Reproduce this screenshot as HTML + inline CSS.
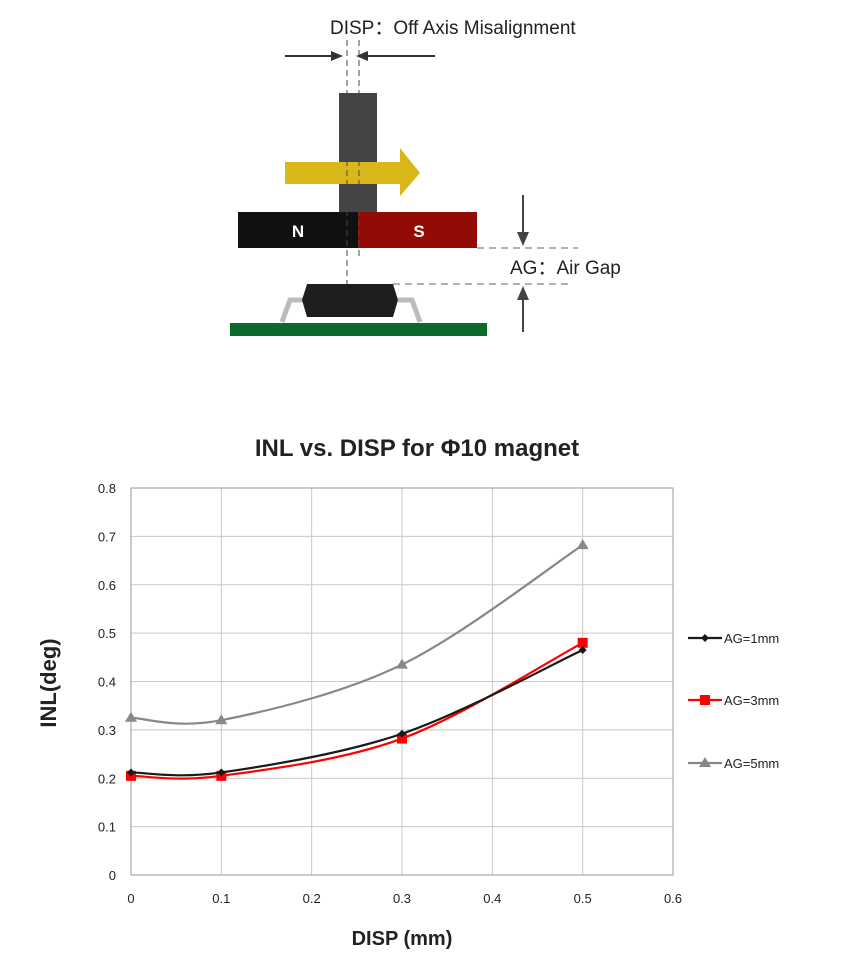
<!DOCTYPE html>
<html><head><meta charset="utf-8"><style>
html,body{margin:0;padding:0;background:#fff;}
body{width:852px;height:975px;position:relative;overflow:hidden;font-family:"Liberation Sans",sans-serif;}
</style></head><body>
<svg width="852" height="975" viewBox="0 0 852 975" xmlns="http://www.w3.org/2000/svg">
<g>
  <text x="330" y="34" font-size="19" fill="#222">DISP：Off Axis Misalignment</text>
  <line x1="285" y1="56" x2="338" y2="56" stroke="#333" stroke-width="2"/>
  <polygon points="343,56 331,51 331,61" fill="#333"/>
  <line x1="362" y1="56" x2="435" y2="56" stroke="#333" stroke-width="2"/>
  <polygon points="356,56 368,51 368,61" fill="#333"/>
  <rect x="339" y="93" width="38" height="120" fill="#444"/>
  <rect x="285" y="162" width="100" height="22" fill="#d8b818"/>
  <polygon points="400,148 420,173 400,196" fill="#d8b818"/>
  <rect x="385" y="162" width="16" height="22" fill="#d8b818"/>
  <rect x="238" y="212" width="120" height="36" fill="#111"/>
  <rect x="358" y="212" width="119" height="36" fill="#930b05"/>
  <text x="298" y="237" font-size="17" font-weight="bold" fill="#fff" text-anchor="middle">N</text>
  <text x="419" y="237" font-size="17" font-weight="bold" fill="#fff" text-anchor="middle">S</text>
  <line x1="347" y1="40" x2="347" y2="290" stroke="#444" stroke-dasharray="6,4"/>
  <line x1="359" y1="40" x2="359" y2="258" stroke="#444" stroke-dasharray="6,4"/>
  <line x1="477" y1="248" x2="578" y2="248" stroke="#666" stroke-dasharray="7,5"/>
  <line x1="393" y1="284" x2="572" y2="284" stroke="#666" stroke-dasharray="7,5"/>
  <line x1="523" y1="195" x2="523" y2="236" stroke="#444" stroke-width="2"/>
  <polygon points="523,246 517,232 529,232" fill="#444"/>
  <line x1="523" y1="297" x2="523" y2="332" stroke="#444" stroke-width="2"/>
  <polygon points="523,286 517,300 529,300" fill="#444"/>
  <text x="510" y="274" font-size="19" fill="#222">AG：Air Gap</text>
  <path d="M282,322 L290,300 L305,300 M420,322 L412,300 L398,300" stroke="#bbb" stroke-width="5" fill="none"/>
  <polygon points="307,284 393,284 398,300 393,317 307,317 302,300" fill="#1e1e1e"/>
  <rect x="230" y="323" width="257" height="13" fill="#0a6a2c"/>
</g>
<text x="417" y="456" font-size="24" font-weight="bold" fill="#222" text-anchor="middle">INL vs. DISP for Φ10 magnet</text>
<g id="grid"></g>
<rect x="131" y="488" width="542" height="387" fill="none" stroke="#999"/>
<g id="series"></g>
<g id="ticks" font-size="13" fill="#222"></g>
<text x="402" y="945" font-size="20" font-weight="bold" fill="#222" text-anchor="middle">DISP (mm)</text>
<text transform="translate(56,683) rotate(-90)" font-size="22" font-weight="bold" fill="#222" text-anchor="middle">INL(deg)</text>
<g id="legend" font-size="13" fill="#222"></g>
</svg>
<script>
const xCats=[0,0.1,0.3,0.5];
const ag1=[0.212,0.212,0.292,0.465];
const ag3=[0.205,0.205,0.282,0.48];
const ag5=[0.325,0.32,0.435,0.682];
const seriesNames=["AG=1mm","AG=3mm","AG=5mm"];
const xTicks=[0,0.1,0.2,0.3,0.4,0.5,0.6];
const yTicks=[0,0.1,0.2,0.3,0.4,0.5,0.6,0.7,0.8];
const NS="http://www.w3.org/2000/svg";
const X=v=>131+v/0.6*542, Y=v=>875-v/0.8*387;
function mk(t,a,p){const e=document.createElementNS(NS,t);for(const k in a)e.setAttribute(k,a[k]);p.appendChild(e);return e;}
const grid=document.getElementById('grid'),ticks=document.getElementById('ticks');
xTicks.forEach(v=>{const l=mk('line',{x1:X(v),x2:X(v),y1:488,y2:875,stroke:'#c8c8c8'},grid);


const t=mk('text',{x:X(v),y:903,'text-anchor':'middle'},ticks);t.textContent=v;

});
yTicks.forEach(v=>{const l=mk('line',{x1:131,x2:673,y1:Y(v),y2:Y(v),stroke:'#c8c8c8'},grid);


const t=mk('text',{x:116,y:Y(v)+5,'text-anchor':'end'},ticks);t.textContent=v;

});
function smooth(pts){let d=`M${pts[0][0]},${pts[0][1]}`;for(let i=0;i<pts.length-1;i++){const p0=pts[Math.max(0,i-1)],p1=pts[i],p2=pts[i+1],p3=pts[Math.min(pts.length-1,i+2)];
const c1=[p1[0]+(p2[0]-p0[0])/6,p1[1]+(p2[1]-p0[1])/6],c2=[p2[0]-(p3[0]-p1[0])/6,p2[1]-(p3[1]-p1[1])/6];
d+=` C${c1[0]},${c1[1]} ${c2[0]},${c2[1]} ${p2[0]},${p2[1]}`;}return d;}
const sg=document.getElementById('series'),lg=document.getElementById('legend');
const data=[ag5,ag3,ag1],colors=['#888','#ff0000','#1a1a1a'],marks=['tri','sq','dia'],names=[seriesNames[2],seriesNames[1],seriesNames[0]],ly=[763,700,638];
function marker(type,x,y,c,p){if(type==='sq')return mk('rect',{x:x-5,y:y-5,width:10,height:10,fill:c},p);
if(type==='tri')return mk('polygon',{points:`${x},${y-6} ${x+6},${y+4} ${x-6},${y+4}`,fill:c},p);
return mk('polygon',{points:`${x},${y-4} ${x+4},${y} ${x},${y+4} ${x-4},${y}`,fill:c},p);}
data.forEach((s,i)=>{const g=mk('g',{},sg);


const pts=s.map((v,j)=>[X(xCats[j]),Y(v)]);
mk('path',{d:smooth(pts),fill:'none',stroke:colors[i],'stroke-width':2.2},g);
pts.forEach(p=>{const m=marker(marks[i],p[0],p[1],colors[i],g);

});
const e=mk('g',{},lg);


mk('line',{x1:688,x2:722,y1:ly[i],y2:ly[i],stroke:colors[i],'stroke-width':2.2},e);
marker(marks[i],705,ly[i],colors[i],e);
const t=mk('text',{x:724,y:ly[i]+5},e);t.textContent=names[i];});
</script>
</body></html>
